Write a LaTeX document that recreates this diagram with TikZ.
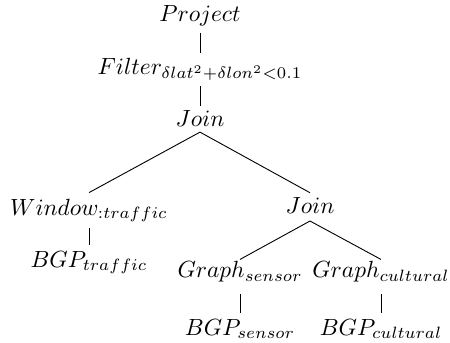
\documentclass[tikz,border=0pt]{standalone}
\usepackage{graphicx}
\newcommand{\optxt}[1]{\scalebox{1.03}{$#1$}}
\begin{document}
\begin{tikzpicture}[x=0.44pt,y=-0.44pt,
  op/.style={anchor=base,inner sep=2.5pt},
  edge/.style={draw,line width=0.4pt}]
\useasboundingbox (0,0) rectangle (450,342);
\node[op] (proj) at (200,21) {\optxt{Project}};
\node[op] (filt) at (200,74) {\optxt{Filter_{\delta lat^2+\delta lon^2<0.1}}};
\node[op] (join) at (200,126) {\optxt{Join}};
\node[op] (win) at (89,215) {\optxt{Window_{:traffic}}};
\node[op] (bgpt) at (89,267) {\optxt{BGP_{traffic}}};
\node[op] (join2) at (310,213.5) {\optxt{Join}};
\node[op] (gs) at (240,277.5) {\optxt{Graph_{sensor}}};
\node[op] (gc) at (381,277.5) {\optxt{Graph_{cultural}}};
\node[op] (bs) at (240,335) {\optxt{BGP_{sensor}}};
\node[op] (bc) at (381,335) {\optxt{BGP_{cultural}}};
\path[edge] ([yshift=-0.5pt]proj.south) -- ([yshift=-0.5pt]filt.north);
\path[edge] (filt.south) -- ([yshift=-0.9pt]join.north);
\path[edge] (join.south) -- (win.north);
\path[edge] (join.south) -- ([yshift=-0.6pt]join2.north);
\path[edge] (win.south) -- (bgpt.north);
\path[edge] ([yshift=-0.6pt]join2.south) -- ([yshift=-1.9pt]gs.north);
\path[edge] ([yshift=-0.6pt]join2.south) -- ([yshift=-1.9pt]gc.north);
\path[edge] ([yshift=-2.5pt]gs.south) -- (bs.north);
\path[edge] ([yshift=-2.5pt]gc.south) -- (bc.north);
\end{tikzpicture}
\end{document}
